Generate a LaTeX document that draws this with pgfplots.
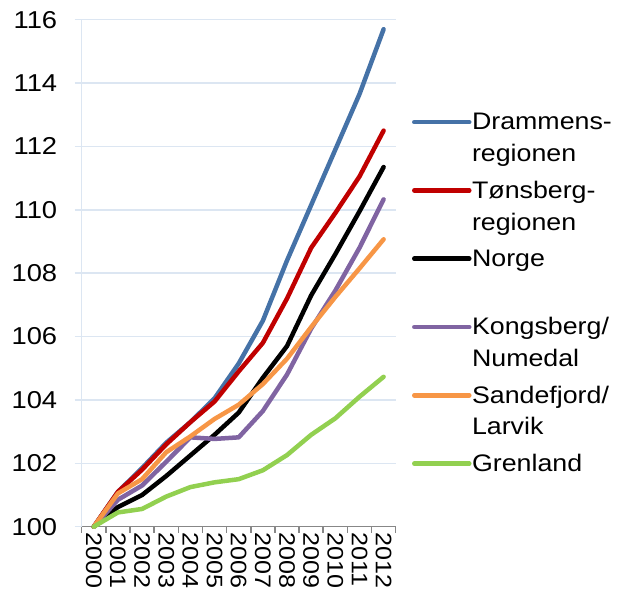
\documentclass[border=0pt]{standalone}
\usepackage{fontspec}
\setmainfont{Liberation Sans}[FakeStretch=1.12]
\usepackage{pgfplots}
\usepackage{pgfplotstable}
\pgfplotsset{compat=1.18}
\definecolor{cBlue}{HTML}{4572A7}
\definecolor{cRed}{HTML}{C00000}
\definecolor{cPurple}{HTML}{8064A2}
\definecolor{cOrange}{HTML}{F79646}
\definecolor{cGreen}{HTML}{92D050}
\definecolor{gridc}{HTML}{DCE6F2}
\definecolor{axc}{HTML}{878787}
\pgfplotstableread{
year blue red black purple orange green
0 100 100 100 100 100 100
1 101.1 101.1 100.62 100.85 101.05 100.45
2 101.85 101.8 101.0 101.3 101.5 100.56
3 102.65 102.6 101.6 102.05 102.35 100.95
4 103.3 103.3 102.25 102.82 102.85 101.25
5 104.05 103.95 102.9 102.77 103.4 101.4
6 105.15 104.9 103.6 102.82 103.85 101.5
7 106.5 105.8 104.7 103.65 104.5 101.78
8 108.4 107.2 105.7 104.8 105.3 102.26
9 110.15 108.8 107.3 106.25 106.3 102.9
10 111.9 109.9 108.6 107.45 107.25 103.42
11 113.65 111.05 109.95 108.8 108.15 104.1
12 115.7 112.5 111.35 110.33 109.07 104.73
}\datatable
\begin{document}
\begin{tikzpicture}
\begin{axis}[
  scale only axis, width=314bp, height=507bp,
  at={(0,0)}, anchor=south west,
  xmin=-0.5, xmax=12.5, ymin=100, ymax=116,
  clip=false,
  axis x line*=bottom, axis y line*=left,
  x axis line style={-, draw=axc, line width=1.5bp},
  y axis line style={-, draw=gridc, line width=1.5bp},
  xtick={0,...,12},
  xticklabels={2000,2001,2002,2003,2004,2005,2006,2007,2008,2009,2010,2011,2012},
  minor xtick={-0.5,0.5,...,12.5},
  major x tick style={draw=none},
  minor x tick style={draw=axc, line width=1.5bp},
  minor tick length=6bp,
  ytick={100,102,...,116},
  major tick length=7bp,
  y tick style={draw=gridc, line width=1.5bp},
  tick align=outside,
  ymajorgrids,
  major grid style={draw=gridc, line width=1.5bp},
  /pgf/number format/assume math mode=true,
  yticklabel style={font=\fontsize{24.5}{28}\selectfont, xshift=-14bp},
  xticklabel style={font=\fontsize{22.5}{27}\selectfont, rotate=-90, anchor=west, xshift=-5bp},
  every axis plot/.append style={line width=4.5bp, line join=round, line cap=round},
  legend style={at={(1.052,0.8266)}, anchor=north west, draw=none, fill=none,
    inner sep=0pt, outer sep=0pt, font=\fontsize{24}{32}\selectfont,
    /tikz/row sep=12.6bp, /tikz/column sep=0.5bp,
    nodes={inner sep=0pt, outer sep=0pt}},
  legend cell align=left,
  legend image code/.code={\draw[#1, line width=4.5bp, line cap=round] (0bp,13.3bp) -- (55bp,13.3bp);},
]
\addplot[cBlue] table[x=year,y=blue]{\datatable};
\addlegendentry{\begin{tabular}[b]{@{}l@{}}Drammens-\\regionen\end{tabular}}
\addplot[cRed] table[x=year,y=red]{\datatable};
\addlegendentry{\begin{tabular}[b]{@{}l@{}}Tønsberg-\\regionen\end{tabular}}
\addplot[black] table[x=year,y=black]{\datatable};
\addlegendentry{\begin{tabular}[b]{@{}l@{}}Norge\\\strut\end{tabular}}
\addplot[cPurple] table[x=year,y=purple]{\datatable};
\addlegendentry{\begin{tabular}[b]{@{}l@{}}Kongsberg/\\Numedal\end{tabular}}
\addplot[cOrange] table[x=year,y=orange]{\datatable};
\addlegendentry{\begin{tabular}[b]{@{}l@{}}Sandefjord/\\Larvik\end{tabular}}
\addplot[cGreen] table[x=year,y=green]{\datatable};
\addlegendentry{\begin{tabular}[b]{@{}l@{}}Grenland\\\strut\end{tabular}}
\end{axis}
\pgfresetboundingbox
\path[use as bounding box] (-81.7bp,-63.3bp) rectangle (542.3bp,526.7bp);
\end{tikzpicture}
\end{document}
